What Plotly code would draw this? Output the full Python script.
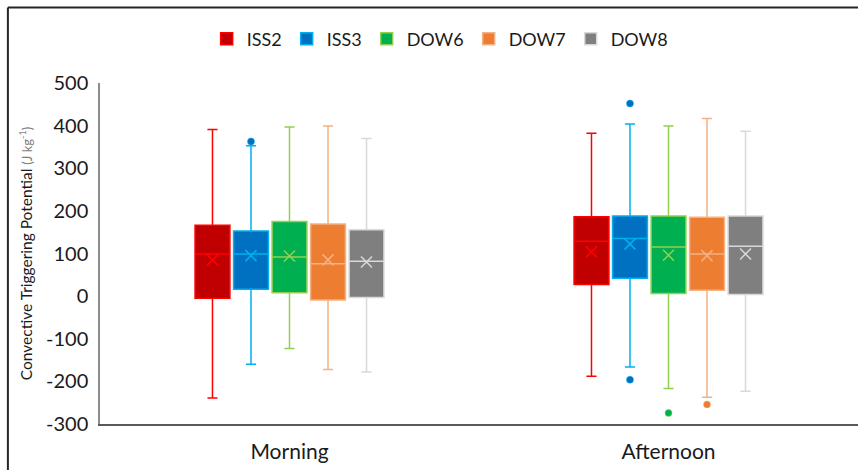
import plotly.graph_objects as go

# Periods on the x axis and instrument series
categories = ["Morning", "Afternoon"]
series = ["ISS2", "ISS3", "DOW6", "DOW7", "DOW8"]

# Value axis ticks (J kg-1)
y_ticks = [500, 400, 300, 200, 100, 0, -100, -200, -300]
y_tick_labels = ["500", "400", "300", "200", "100", "0", "-100", "-200", "-300"]

# Box statistics, one row per series: [Morning, Afternoon] (J kg-1)
lower_fence = [[-239, -188], [-160, -166], [-123, -217], [-172, -237], [-178, -223]]
q1 = [[-5, 27], [16, 42], [8, 6], [-9, 14], [-3, 4]]
median = [[99, 129], [99, 135], [92, 115], [76, 99], [82, 117]]
q3 = [[166, 186], [153, 188], [175, 188], [169, 185], [156, 188]]
upper_fence = [[391, 382], [353, 404], [397, 399], [399, 417], [370, 387]]
mean = [[85, 104], [95, 122], [94, 96], [85, 95], [80, 99]]

# Outlying points: series index, period index, value
outlier_series = [1, 1, 1, 2, 3]
outlier_period = [0, 1, 1, 1, 1]
outlier_value = [363, 452, -196, -274, -254]

fill_colors = ["#C00000", "#0070C0", "#00B050", "#ED7D31", "#7F7F7F"]
line_colors = ["#FF0000", "#00B0F0", "#92D050", "#F4B183", "#D9D9D9"]

slot = 0.1016
box_w = 0.092


def position(s, c):
    return c + (s - 2) * slot


fig = go.Figure()

for s, name in enumerate(series):
    xs = [position(s, c) for c in range(len(categories))]
    fig.add_trace(go.Box(
        name=name,
        x=xs,
        q1=q1[s], median=median[s], q3=q3[s],
        lowerfence=lower_fence[s], upperfence=upper_fence[s],
        width=box_w,
        whiskerwidth=0.29,
        fillcolor=fill_colors[s],
        line=dict(color=line_colors[s], width=1.5),
        boxpoints=False,
        hoverinfo="skip",
    ))

for s, name in enumerate(series):
    xs = [position(s, c) for c in range(len(categories))]
    fig.add_trace(go.Scatter(
        x=xs, y=mean[s], mode="markers", showlegend=False, hoverinfo="skip",
        marker=dict(symbol="x-thin", size=11,
                    line=dict(color=line_colors[s], width=1.5)),
    ))

fig.add_trace(go.Scatter(
    x=[position(s, c) for s, c in zip(outlier_series, outlier_period)],
    y=outlier_value, mode="markers", showlegend=False, hoverinfo="skip",
    marker=dict(symbol="circle", size=7,
                color=[fill_colors[s] for s in outlier_series],
                line=dict(color=[line_colors[s] for s in outlier_series], width=0.5)),
))

# outer chart frame (left and top edges)
frame = dict(color="#262626", width=2)
fig.add_shape(type="line", xref="paper", yref="paper",
              x0=-0.1215, x1=-0.1215, y0=-0.2, y1=1.2214, line=frame)
fig.add_shape(type="line", xref="paper", yref="paper",
              x0=-0.1215, x1=1.01, y0=1.2214, y1=1.2214, line=frame)

fig.update_layout(
    width=858, height=470,
    margin=dict(l=100, r=0, t=83, b=46),
    paper_bgcolor="white", plot_bgcolor="white",
    font=dict(family="Lato, 'Open Sans', sans-serif", color="#1a1a1a", size=18),
    showlegend=True,
    legend=dict(orientation="h", xref="container", yref="container",
                x=0.513, xanchor="center", y=0.917, yanchor="middle",
                itemwidth=30, font=dict(size=18), itemclick=False),
    xaxis=dict(range=[-0.5, 1.5], tickvals=list(range(len(categories))),
               ticktext=categories, showgrid=False, zeroline=False,
               showline=True, linecolor="#595959", linewidth=2,
               ticks="", ticklabelstandoff=8, tickfont=dict(size=21)),
    yaxis=dict(range=[-300, 500], tickvals=y_ticks, ticktext=y_tick_labels,
               showgrid=False, zeroline=False,
               showline=True, linecolor="#8c8c8c", linewidth=1.5,
               ticks="", ticklabelstandoff=6, tickfont=dict(size=20),
               title=dict(text="Convective Triggering Potential "
                               "<span style='color:#7f7f7f;font-size:13px'>(J kg<sup>-1</sup>)</span>",
                          font=dict(size=15.5), standoff=10)),
)

fig.write_html("out.html")
